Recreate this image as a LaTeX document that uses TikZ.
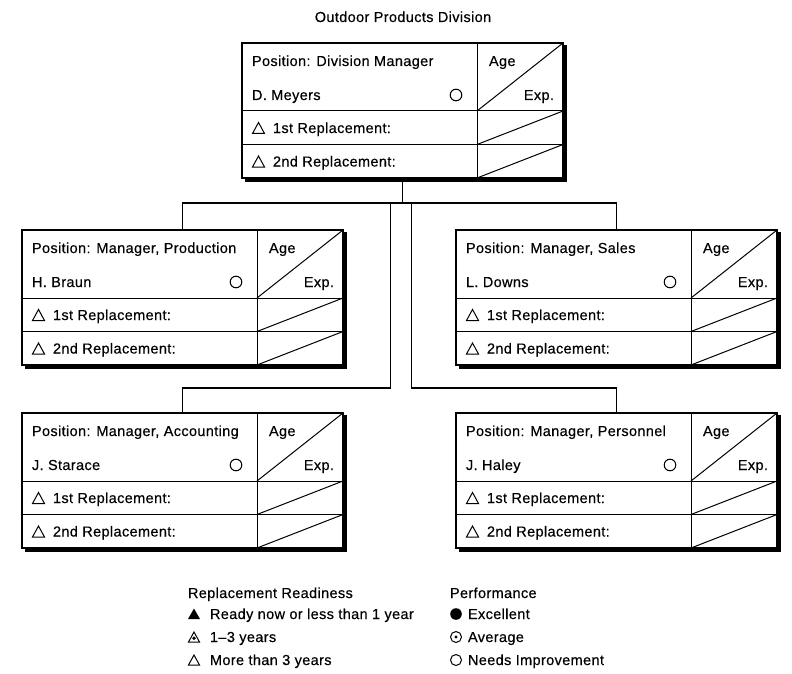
\documentclass[tikz,border=0pt]{standalone}
\usepackage{fontspec}
\setmainfont{Liberation Sans}[LetterSpace=2.5,FakeBold=0.35]
\usetikzlibrary{calc}
\tikzset{
 box/.style={draw, line width=1.1pt, inner sep=0pt, outer sep=0pt, minimum width=321pt, minimum height=135pt, anchor=north west},
 rule/.style={line width=1pt},
 shadowline/.style={line width=4pt},
 link/.style={line width=1.2pt},
 txt/.style={inner sep=0pt, outer sep=0pt, anchor=base west, font=\fontsize{14.5}{17}\selectfont},
 txtr/.style={txt, anchor=base east},
 sym/.style={line width=1pt},
}
\newcommand\repbox[5]{%
\begin{scope}[shift={(#2,#3)}]
\node[box] (#1) at (0,0) {};
\draw[rule] (235,0) -- (235,135);
\draw[rule] (0,68) -- (321,68);
\draw[rule] (0,101.5) -- (321,101.5);
\draw[rule] (235,68) -- (321,0);
\draw[rule] (235,101.5) -- (321,68);
\draw[rule] (235,135) -- (321,101.5);
\draw[shadowline] (323,2) -- (323,137) -- (3,137);
\node[txt] (#1-pos) at (10,23) {Position: #4};
\node[txt] (#1-name) at (10,57) {#5};
\draw[sym] (214,52) circle[radius=5.8pt];
\node[txt] (#1-age) at (247,23) {Age};
\node[txtr] (#1-exp) at (312,57) {Exp.};
\draw[sym] (10.5,90.5) -- (22.5,90.5) -- (16.5,79.5) -- cycle;
\node[txt] (#1-r1) at (31,90) {1st Replacement:};
\draw[sym] (10.5,124) -- (22.5,124) -- (16.5,113) -- cycle;
\node[txt] (#1-r2) at (31,123.5) {2nd Replacement:};
\end{scope}}
\begin{document}
\begin{tikzpicture}[x=1pt,y=-1pt]
\useasboundingbox (0,0) rectangle (792,674);
\node[txt, anchor=base] (title) at (403,22) {Outdoor Products Division};
\repbox{tb}{242}{43}{Division Manager}{D. Meyers}
\repbox{ml}{22}{230}{Manager, Production}{H. Braun}
\repbox{mr}{456}{230}{Manager, Sales}{L. Downs}
\repbox{ll}{22}{413}{Manager, Accounting}{J. Starace}
\repbox{lr}{456}{413}{Manager, Personnel}{J. Haley}
% connectors
\draw[link] (tb.south) -- ++(0,25) coordinate (j);
\draw[link] (ml.north) |- (j) -| (mr.north);
\coordinate (jl) at ($(j)+(-12,0)$);
\coordinate (jr) at ($(j)+(9,0)$);
\draw[link] (jl) |- ([yshift=25pt]ll.north) -- (ll.north);
\draw[link] (jr) |- ([yshift=25pt]lr.north) -- (lr.north);
% legend
\node[txt] (rrh) at (188,598) {Replacement Readiness};
\fill (188,619) -- (200,619) -- (194,608.5) -- cycle;
\node[txt] (rr1) at (210,619) {Ready now or less than 1 year};
\draw[sym] (188.5,642) -- (199.5,642) -- (194,632) -- cycle;
\fill (194,638.3) circle[radius=1.9pt];
\node[txt] (rr2) at (210,642) {1–3 years};
\draw[sym] (188.5,665) -- (199.5,665) -- (194,655) -- cycle;
\node[txt] (rr3) at (210,665) {More than 3 years};
\node[txt] (perf) at (450,598) {Performance};
\fill (456,614) circle[radius=5.8pt];
\node[txt] (p1) at (468,619) {Excellent};
\draw[sym] (456,637) circle[radius=5.5pt];
\fill (456,637) circle[radius=1.6pt];
\node[txt] (p2) at (468,642) {Average};
\draw[sym] (456,660) circle[radius=5.5pt];
\node[txt] (p3) at (468,665) {Needs Improvement};
\end{tikzpicture}
\end{document}
